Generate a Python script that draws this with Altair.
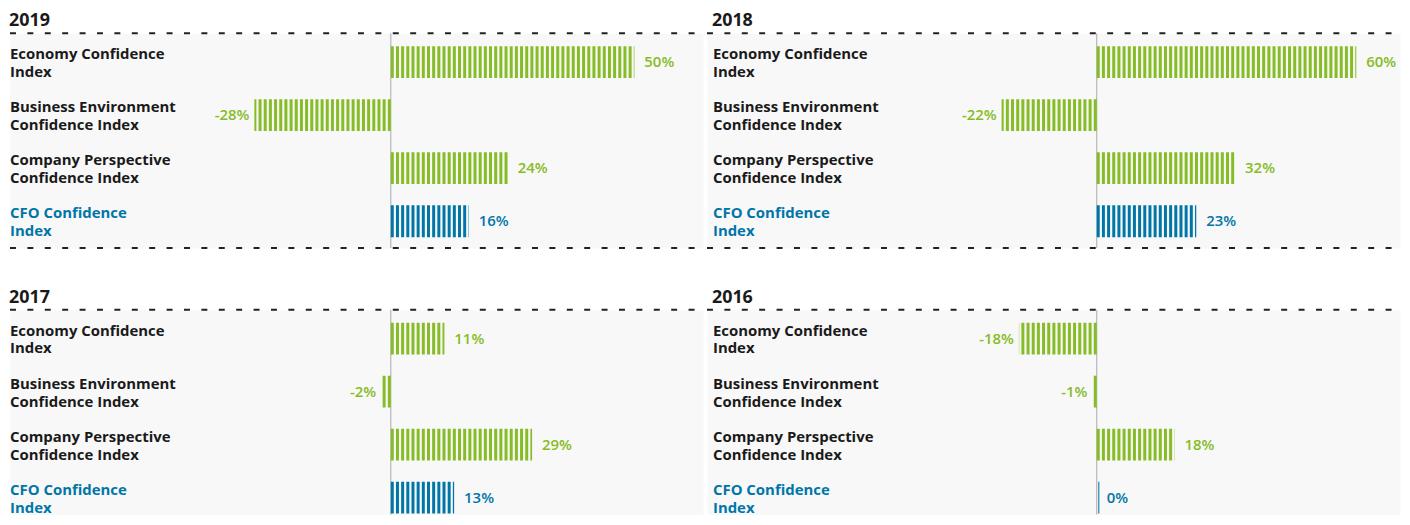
import altair as alt
import pandas as pd

categories = ["Economy Confidence Index", "Business Environment Confidence Index",
              "Company Perspective Confidence Index", "CFO Confidence Index"]
label_lines = ["Economy Confidence\nIndex", "Business Environment\nConfidence Index",
               "Company Perspective\nConfidence Index", "CFO Confidence\nIndex"]
years = ["2019", "2018", "2017", "2016"]
values_2019 = [50, -28, 24, 16]
values_2018 = [60, -22, 32, 23]
values_2017 = [11, -2, 29, 13]
values_2016 = [-18, -1, 18, 0]

GREEN = "#86bc25"
BLUE = "#0076a8"
DARK = "#1a1a1a"
FONT = "Open Sans"
W = 697


def panel(year, values, label_x, zero_px, k, height, bottom_line):
    df = pd.DataFrame({"cat": categories, "label": label_lines, "v": values})
    df["txt"] = [f"{v}%" for v in values]
    xs = alt.Scale(domain=[-zero_px / k, (W - zero_px) / k], nice=False, zero=False)
    ys = alt.Scale(type="point", domain=categories, range=[29, 189], padding=0)
    color = alt.Color("cat:N", scale=alt.Scale(domain=categories, range=[GREEN, GREEN, GREEN, BLUE]), legend=None)
    y = alt.Y("cat:N", scale=ys, axis=None)
    base = alt.Chart(df)

    one = alt.Data(values=[{"z": 0}])
    dash_top = alt.Chart(one).mark_rule(strokeDash=[6, 11.5], strokeWidth=2, color="#222").encode(
        x=alt.value(0), x2=alt.value(W), y=alt.value(0))
    layers = [dash_top]
    if bottom_line:
        dash_bot = alt.Chart(one).mark_rule(strokeDash=[6, 11.5], strokeWidth=2, color="#222").encode(
            x=alt.value(0), x2=alt.value(W), y=alt.value(height))
        layers.append(dash_bot)
    zero_line = alt.Chart(one).mark_rule(color="#aaaaaa", strokeWidth=1).encode(
        x=alt.X("z:Q", scale=xs, axis=None))
    bars = base.transform_calculate(zero="0").mark_rule(strokeWidth=32, strokeDash=[3, 2.2]).encode(
        x=alt.X("zero:Q", scale=xs, axis=None), x2="v:Q", y=y, color=color)
    tick = base.transform_filter("datum.v == 0").mark_tick(thickness=1.5, size=32, xOffset=2).encode(
        x=alt.X("v:Q", scale=xs, axis=None), y=y, color=color)
    pos = base.transform_filter("datum.v >= 0").mark_text(
        align="left", baseline="middle", dx=10, fontSize=15, fontWeight=600, font=FONT).encode(
        x=alt.X("v:Q", scale=xs, axis=None), y=y, text="txt:N", color=color)
    neg = base.transform_filter("datum.v < 0").mark_text(
        align="right", baseline="middle", dx=-5, fontSize=15, fontWeight=600, font=FONT).encode(
        x=alt.X("v:Q", scale=xs, axis=None), y=y, text="txt:N", color=color)
    labels = base.mark_text(align="left", baseline="middle", lineBreak="\n", lineHeight=18, dy=-8,
                            fontSize=15, fontWeight="bold", font=FONT).encode(
        x=alt.value(label_x), y=y, text="label:N",
        color=alt.condition("datum.cat == 'CFO Confidence Index'", alt.value(BLUE), alt.value(DARK)))
    layers += [zero_line, bars, tick, pos, neg, labels]
    return alt.layer(*layers).properties(
        width=W, height=height,
        title=alt.TitleParams(text=year, anchor="start", fontSize=18, fontWeight="bold",
                              font=FONT, color=DARK, offset=2, dx=label_x))


p2019 = panel(years[0], values_2019, 0, 383, 4.9, 216, True)
p2018 = panel(years[1], values_2018, 6, 392, 4.35, 216, True)
p2017 = panel(years[2], values_2017, 0, 383, 4.9, 206, False)
p2016 = panel(years[3], values_2016, 6, 392, 4.35, 206, False)

chart = alt.vconcat(
    alt.hconcat(p2019, p2018, spacing=0),
    alt.hconcat(p2017, p2016, spacing=0),
    spacing=38, padding={"top": 2, "left": 0, "right": 0, "bottom": 0},
).configure_view(fill="#f8f8f8", stroke="transparent")

chart.save("out.html", embed_options={"renderer": "svg", "actions": False})
